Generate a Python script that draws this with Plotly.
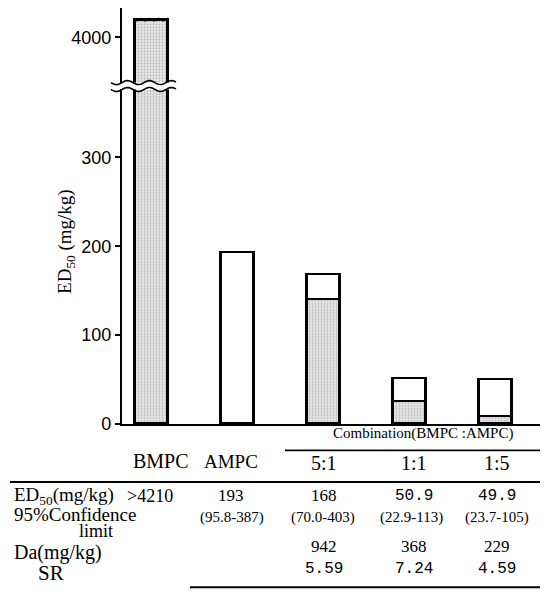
import math
import plotly.graph_objects as go

# ---------------- data ----------------
categories = ["BMPC", "AMPC", "5:1", "1:1", "1:5"]
ed50 = [4210, 193, 168, 50.9, 49.9]
bmpc_part = [4210, None, 140, 25.5, 8.3]     # stippled (BMPC share)
ampc_part = [None, 193, 28, 25.4, 41.6]      # white (AMPC share)
lower_ticks = [0, 100, 200, 300]
upper_ticks = [4000]

col_labels_single = ["BMPC", "AMPC"]
combo_labels = ["5:1", "1:1", "1:5"]
ed50_text = [">4210", "193", "168", "50.9", "49.9"]
ci_text = ["(95.8-387)", "(70.0-403)", "(22.9-113)", "(23.7-105)"]
da_text = ["942", "368", "229"]
sr_text = ["5.59", "7.24", "4.59"]

W, H = 548, 605
def px(x):
    return x / W
def py(y):
    return 1 - y / H

SERIF = "Liberation Serif, Times New Roman, serif"
NARROW = "Liberation Sans Narrow, Arial Narrow, Liberation Sans, sans-serif"
MONO = "Liberation Mono, Courier New, monospace"

stipple = dict(shape=".", fgcolor="#8a8a8a", bgcolor="#e6e6e6", size=3, solidity=0.3, fillmode="overlay")
LINE = dict(color="black", width=2.6)
BW = 0.384

fig = go.Figure()
# lower panel
fig.add_trace(go.Bar(x=categories, y=bmpc_part, width=BW, xaxis="x", yaxis="y",
                     marker=dict(color="#e2e2e2", pattern=stipple, line=LINE), showlegend=False))
fig.add_trace(go.Bar(x=categories, y=ampc_part, width=BW, xaxis="x", yaxis="y",
                     marker=dict(color="white", line=LINE), showlegend=False))
# upper panel (broken axis)
fig.add_trace(go.Bar(x=categories, y=[v if i == 0 else None for i, v in enumerate(ed50)], width=BW,
                     xaxis="x2", yaxis="y2",
                     marker=dict(color="#e2e2e2", pattern=stipple, line=LINE), showlegend=False))

xr = [-0.349, 4.523]
xdom = [px(122), px(540)]
tickfont = dict(family=NARROW, size=18, color="black")
fig.update_layout(
    width=W, height=H, margin=dict(l=0, r=0, t=0, b=0),
    paper_bgcolor="white", plot_bgcolor="white", barmode="stack", bargap=0,
    xaxis=dict(domain=xdom, range=xr, showline=True, linecolor="black", linewidth=2.2,
               showticklabels=False, ticks="", showgrid=False, zeroline=False, anchor="y"),
    yaxis=dict(domain=[py(431), py(91)], range=[0, 376.4], tickvals=lower_ticks,
               ticks="outside", ticklen=5, tickwidth=2, tickcolor="black",
               showline=True, linecolor="black", linewidth=2.2, showgrid=False, zeroline=False,
               tickfont=tickfont, anchor="x"),
    xaxis2=dict(domain=xdom, range=xr, visible=False, anchor="y2"),
    yaxis2=dict(domain=[py(84), py(8)], range=[3463, 4350], tickvals=upper_ticks,
                ticks="outside", ticklen=5, tickwidth=2, tickcolor="black",
                showline=True, linecolor="black", linewidth=2.2, showgrid=False, zeroline=False,
                tickfont=tickfont, anchor="x2"),
)

# broken-axis wavy marks
def wave(x0, x1, y, amp=2.0, period=22.0, n=60):
    pts = []
    for i in range(n + 1):
        x = x0 + (x1 - x0) * i / n
        yy = y + amp * math.sin(2 * math.pi * (x - x0) / period)
        pts.append(f"{px(x):.5f},{py(yy):.5f}")
    return "M " + " L ".join(pts)

for yb in (84, 91):
    fig.add_shape(type="path", path=wave(111, 176, yb), xref="paper", yref="paper",
                  line=dict(color="black", width=1.6))
# torn top of the off-scale bar
fig.add_shape(type="path", path=wave(134, 168, 20, amp=1.2, period=9), xref="paper", yref="paper",
              line=dict(color="black", width=1.4))

# y-axis title
fig.add_annotation(text="ED<sub>50</sub> (mg/kg)", x=px(66), y=py(246), xref="paper", yref="paper",
                   textangle=-90, showarrow=False, xanchor="center", yanchor="middle",
                   font=dict(family=SERIF, size=19, color="black"))

def ann(text, x, y, size=17, family=SERIF, xanchor="center"):
    fig.add_annotation(text=text, x=px(x), y=py(y), xref="paper", yref="paper",
                       showarrow=False, xanchor=xanchor, yanchor="middle",
                       font=dict(family=family, size=size, color="black"))

# header
ann("Combination(BMPC :AMPC)", 423, 441, size=15)
fig.add_shape(type="line", x0=px(285), x1=px(540), y0=py(458), y1=py(458), xref="paper", yref="paper",
              line=dict(color="black", width=1.8))
ann(col_labels_single[0], 161, 469, size=20)
ann(col_labels_single[1], 231, 469, size=19)
combo_x = [324, 414, 497]
for lbl, x in zip(combo_labels, combo_x):
    ann(lbl, x, 471, size=20)
fig.add_shape(type="line", x0=px(10), x1=px(540), y0=py(490), y1=py(490), xref="paper", yref="paper",
              line=dict(color="black", width=2))

# rows
ann("ED<sub>50</sub>(mg/kg)", 12, 504, size=19, xanchor="left")
ann(ed50_text[0], 175, 504, size=18, xanchor="right")
value_x = [231] + combo_x
for t, x in zip(ed50_text[1:], value_x):
    if "." in t:
        ann(t, x, 504, size=16, family=MONO)
    else:
        ann(t, x, 504, size=17)
ann("95%Confidence", 12, 523, size=19, xanchor="left")
ann("limit", 96, 540, size=18)
for t, x in zip(ci_text, [232, 323, 411, 497]):
    ann(t, x, 526, size=15)
ann("Da(mg/kg)", 12, 562, size=20, xanchor="left")
for t, x in zip(da_text, combo_x):
    ann(t, x, 556, size=17)
ann("SR", 51, 583, size=21)
for t, x in zip(sr_text, combo_x):
    ann(t, x, 579, size=16, family=MONO)
fig.add_shape(type="line", x0=px(190), x1=px(540), y0=py(597), y1=py(597), xref="paper", yref="paper",
              line=dict(color="black", width=2))

fig.write_html("out.html")
